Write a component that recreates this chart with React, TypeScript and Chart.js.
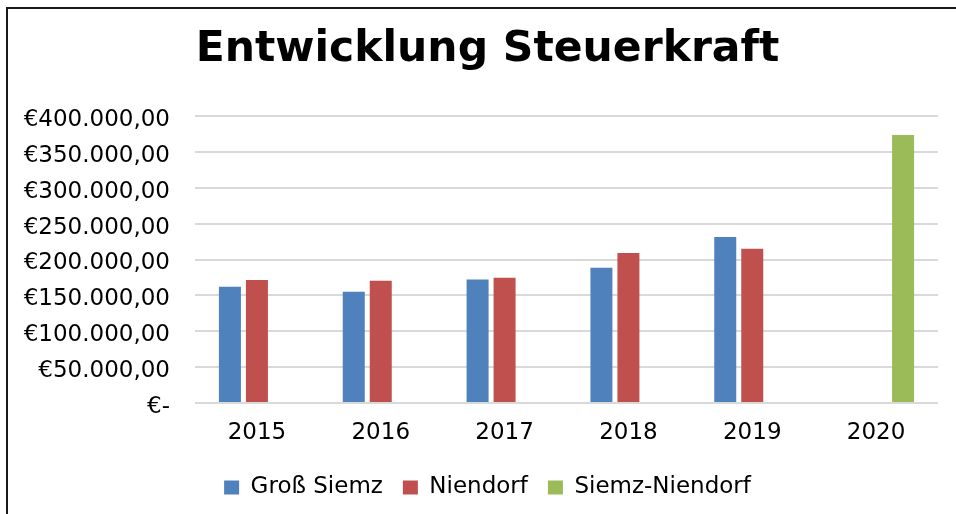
import React, { useEffect, useRef } from "react";
import { Chart, registerables } from "chart.js";

Chart.register(...registerables);

const TITLE = "Entwicklung Steuerkraft";
const YEARS = ["2015", "2016", "2017", "2018", "2019", "2020"];
const GROSS_SIEMZ = [162000, 155000, 172000, 188500, 231500, null];
const NIENDORF = [171500, 170500, 174500, 209000, 215000, null];
const SIEMZ_NIENDORF = [null, null, null, null, null, 373500];
const SERIES_NAMES = ["Groß Siemz", "Niendorf", "Siemz-Niendorf"];
const COLORS = ["#4F81BD", "#C0504D", "#9BBB59"];

function formatEuro(v: number): string {
  if (v === 0) return "€-";
  const intPart = Math.round(v)
    .toString()
    .replace(/\B(?=(\d{3})+(?!\d))/g, ".");
  return "€" + intPart + ",00";
}

export default function App() {
  const ref = useRef<HTMLCanvasElement | null>(null);

  useEffect(() => {
    if (!ref.current) return;
    const font = "'DejaVu Sans', sans-serif";
    const chart = new Chart(ref.current, {
      type: "bar",
      data: {
        labels: YEARS,
        datasets: [
          { label: SERIES_NAMES[0], data: GROSS_SIEMZ, backgroundColor: COLORS[0] },
          { label: SERIES_NAMES[1], data: NIENDORF, backgroundColor: COLORS[1] },
          { label: SERIES_NAMES[2], data: SIEMZ_NIENDORF, backgroundColor: COLORS[2] },
        ],
      },
      options: {
        animation: false,
        responsive: false,
        maintainAspectRatio: false,
        layout: { padding: { left: 0, right: 0, top: 0, bottom: 5 } },
        datasets: {
          bar: { categoryPercentage: 0.654, barPercentage: 0.815 },
        },
        plugins: {
          title: {
            display: true,
            text: TITLE,
            color: "#000",
            font: { family: font, size: 42.5, weight: "bold", lineHeight: 1.2 },
            padding: { top: 24, bottom: 41 },
          },
          legend: {
            position: "bottom",
            labels: {
              color: "#000",
              font: { family: font, size: 23 },
              boxWidth: 15,
              boxHeight: 14,
              padding: 20,
            },
          },
          tooltip: { enabled: false },
        },
        scales: {
          x: {
            grid: { display: false },
            border: { display: false },
            ticks: { color: "#000", font: { family: font, size: 23 }, padding: 8 },
            afterFit: (s: any) => {
              s.height = 53;
            },
          },
          y: {
            min: 0,
            max: 400000,
            grid: { color: "#d9d9d9", lineWidth: 2, drawTicks: false },
            border: { display: false },
            ticks: {
              stepSize: 50000,
              color: "#000",
              font: { family: font, size: 23 },
              padding: 25,
              labelOffset: 4,
              callback: (v: any) => formatEuro(Number(v)),
            },
            afterFit: (s: any) => {
              s.width = 195;
            },
          },
          yRight: {
            position: "right",
            min: 0,
            max: 400000,
            grid: { display: false, drawTicks: false },
            border: { display: false },
            ticks: { display: false },
            afterFit: (s: any) => {
              s.width = 37;
            },
          },
        },
      },
    });
    return () => chart.destroy();
  }, []);

  return (
    <div
      style={{
        position: "fixed",
        left: 0,
        top: 0,
        width: 956,
        height: 514,
        overflow: "hidden",
        background: "#fff",
      }}
    >
      <canvas
        ref={ref}
        width={975}
        height={514}
        style={{ position: "absolute", left: 0, top: 0, width: 975, height: 514 }}
      />
      <div
        style={{
          position: "absolute",
          left: 6,
          top: 7,
          width: 1000,
          height: 600,
          borderLeft: "2px solid #1a1a1a",
          borderTop: "2px solid #1a1a1a",
          pointerEvents: "none",
        }}
      />
    </div>
  );
}
